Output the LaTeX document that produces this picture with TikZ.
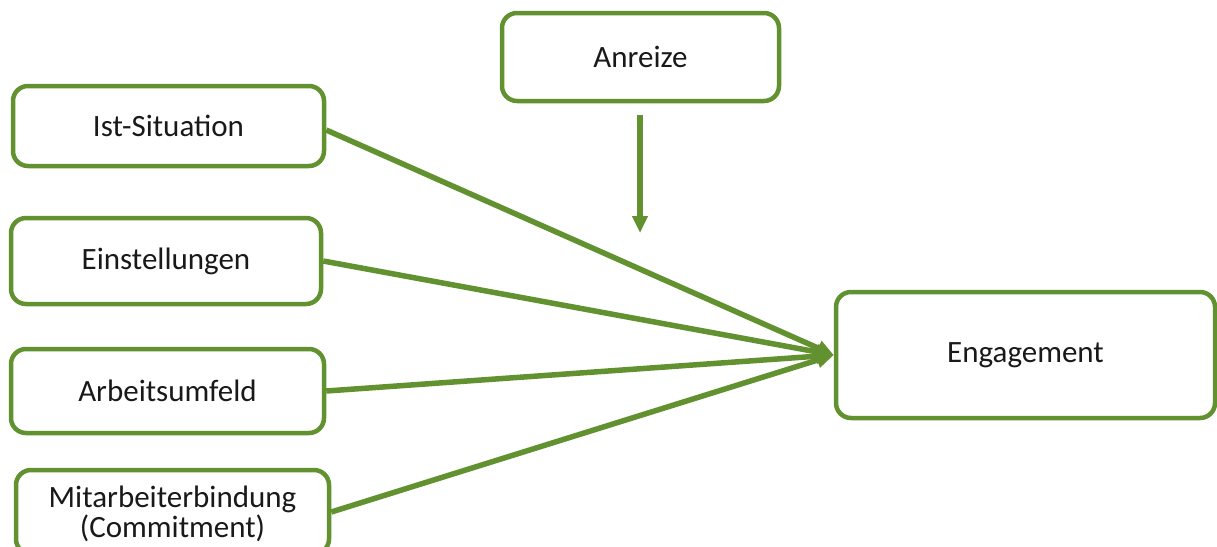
\documentclass[tikz,border=0pt]{standalone}
\usepackage{fontspec}
\setmainfont{Carlito}
\usetikzlibrary{arrows.meta}
\definecolor{grn}{RGB}{98,145,48}
\definecolor{txt}{RGB}{25,25,25}
\begin{document}
\begin{tikzpicture}[x=1pt,y=-1pt,
  box/.style={draw=grn,line width=4.5pt,rounded corners=15pt,fill=white,
    text=txt,font=\fontsize{31}{34}\selectfont,align=center,inner sep=0pt},
  conn/.style={draw=grn,line width=5.5pt,-{Triangle[length=17pt,width=15pt]}}]
\useasboundingbox (0,0) rectangle (1217,546);
\clip (0,0) rectangle (1217,546);
\fill[white] (0,0) rectangle (1217,546);
\node[box,minimum width=311pt,minimum height=80pt] (ist) at (168.5,126) {Ist-Situation};
\node[box,minimum width=310pt,minimum height=86pt] (ein) at (166,261) {Einstellungen};
\node[box,minimum width=313pt,minimum height=84pt] (arb) at (167.5,391) {Arbeitsumfeld};
\node[box,minimum width=313pt,minimum height=84pt,text depth=0pt] (mit) at (172.5,512) {Mitarbeiterbindung\\[-4pt](Commitment)};
\node[box,minimum width=277pt,minimum height=88pt] (anr) at (640.5,57) {Anreize};
\node[box,minimum width=379pt,minimum height=126pt] (eng) at (1025.5,355) {Engagement};
\coordinate (anrs) at (640,115);
\coordinate (anre) at (640,233);
\draw[conn] (anrs) -- (anre);
\draw[conn] (ist.east) ++(0,4) -- (eng.west);
\draw[conn] (ein.east) -- (eng.west);
\draw[conn] (arb.east) -- (eng.west);
\draw[conn] (mit.east) -- (eng.west);
\end{tikzpicture}
\end{document}
